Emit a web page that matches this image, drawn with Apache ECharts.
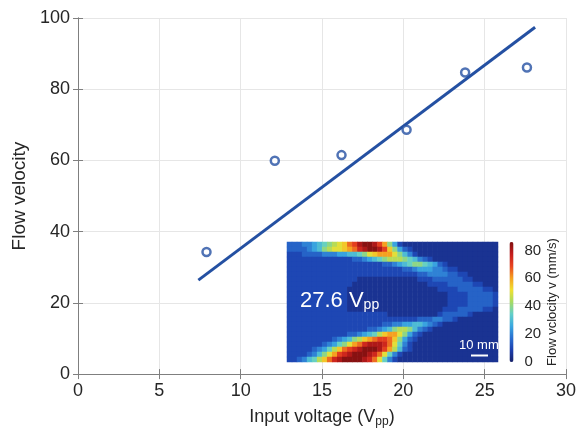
<!DOCTYPE html>
<html>
<head>
<meta charset="utf-8">
<script src="https://cdn.jsdelivr.net/npm/echarts@6/dist/echarts.min.js"></script>
<style>
  html, body { margin: 0; padding: 0; background: #fff; }
  #chart { width: 579px; height: 433px; }
</style>
</head>
<body>
<div id="chart"></div>
<script>
// Measured flow velocity against drive voltage
const voltage = [7.9, 12.1, 16.2, 20.2, 23.8, 27.6];
const velocity = [34.3, 59.9, 61.5, 68.6, 84.7, 86.1];

// Linear trend line end points
const fitVoltage = [7.4, 28.1];
const fitVelocity = [26.4, 97.4];

// Axis ranges
const xRange = [0, 30, 5];
const yRange = [0, 100, 20];

// Velocity field at 27.6 Vpp, one string per row (top to bottom),
// one base-36 digit per cell, in steps of 5 mm/s
const flowRows = [
  "3334456789abdeghhgec852" + "1111111111111111111",
  "333345689aabcdfghhgeb8532" + "11111111111111111",
  "22233334445566" + "78abccca8642" + "1111111111111111",
  "2222222222222" + "3345678999876432" + "1111111111111",
  "22222222222222222" + "223345678876532" + "1111111111",
  "222222222222222222222" + "2233455544322" + "11111111",
  "222222222222222222222222" + "223344443322" + "111111",
  "22222222222222" + "111111111111" + "22233333322" + "11111",
  "2222222222222" + "111111111111111" + "22223333322" + "111",
  "222222222222" + "111111111111111111" + "22223333322" + "1",
  "222222222222" + "11111111111111111111" + "2222333332",
  "222222222222" + "11111111111111111111" + "2222333332",
  "222222222222" + "11111111111111111111" + "2222333332",
  "222222222222" + "1111111111111111111" + "2223333322" + "1",
  "22222222222222222222" + "1111111111" + "2333332" + "11111",
  "22222222222222222222222222" + "33344332" + "11111111",
  "222222222222222222" + "2334455665432" + "11111111111",
  "222222222222222" + "23345689986432" + "1111111111111",
  "222222222222" + "3345679bcca8532" + "111111111111111",
  "222222222" + "345689bcdeedb8532" + "1111111111111111",
  "2222222" + "34578acdfgggfda742" + "11111111111111111",
  "22222" + "34579bdefghhhgec9632" + "11111111111111111",
  "2222" + "3468acefghhhgfda742" + "1111111111111111111",
  "22" + "34679bdfghhhhgfda742" + "11111111111111111111"
];
const flowMax = 86;
const colorbarLabels = [0, 20, 40, 60, 80];

const nCols = flowRows[0].length;
const nRows = flowRows.length;
const flowCells = [];
flowRows.forEach(function (row, r) {
  for (let c = 0; c < row.length; c++) {
    flowCells.push([c, r, parseInt(row[c], 36) * 5]);
  }
});
const colIdx = Array.from({ length: nCols }, (_, i) => i);
const rowIdx = Array.from({ length: nRows }, (_, i) => i);

const FONT = '"Liberation Sans", Arial, Helvetica, sans-serif';
const INK = '#262626';
const AXIS = '#7f7f7f';
const BLUE = '#2450a2';

const chart = echarts.init(document.getElementById('chart'), null, { renderer: 'canvas' });

const boxAxis = {
  axisLine: { show: true, lineStyle: { color: AXIS, width: 1 } },
  axisTick: { show: true, inside: true, length: 5, lineStyle: { color: AXIS } }
};

chart.setOption({
  animation: false,
  backgroundColor: '#fff',
  textStyle: { fontFamily: FONT },
  grid: [
    { left: 78, right: 13, top: 18, bottom: 57 },
    { left: 287, top: 242, width: 211, height: 120 },
    { left: 509.5, top: 242, width: 4, height: 120 }
  ],
  xAxis: [
    Object.assign({
      type: 'value', gridIndex: 0, min: xRange[0], max: xRange[1], interval: xRange[2],
      axisLabel: { color: INK, fontSize: 18, margin: 8, fontFamily: FONT },
      splitLine: { show: true, lineStyle: { color: '#e6e6e6', width: 1 } },
      name: '{a|Input voltage (V}{s|pp}{a|)}',
      nameLocation: 'middle', nameGap: 27,
      nameTextStyle: {
        rich: {
          a: { fontSize: 18, color: INK, fontFamily: FONT, lineHeight: 20, verticalAlign: 'top' },
          s: { fontSize: 12, color: INK, fontFamily: FONT, lineHeight: 12, verticalAlign: 'bottom', padding: [11, 0, 0, 0] }
        }
      }
    }, boxAxis),
    Object.assign({
      type: 'value', gridIndex: 0, position: 'top', min: xRange[0], max: xRange[1], interval: xRange[2],
      axisLabel: { show: false }, splitLine: { show: false }
    }, boxAxis),
    { type: 'category', gridIndex: 1, data: colIdx, show: false },
    { type: 'value', gridIndex: 2, show: false, min: 0, max: 1 }
  ],
  yAxis: [
    Object.assign({
      type: 'value', gridIndex: 0, min: yRange[0], max: yRange[1], interval: yRange[2],
      axisLabel: { color: INK, fontSize: 18, margin: 8, fontFamily: FONT },
      splitLine: { show: true, lineStyle: { color: '#e6e6e6', width: 1 } },
      name: 'Flow velocity',
      nameLocation: 'middle', nameGap: 49, nameRotate: 90,
      nameTextStyle: { fontSize: 19, color: INK, fontFamily: FONT }
    }, boxAxis),
    Object.assign({
      type: 'value', gridIndex: 0, position: 'right', min: yRange[0], max: yRange[1], interval: yRange[2],
      axisLabel: { show: false }, splitLine: { show: false }
    }, boxAxis),
    { type: 'category', gridIndex: 1, data: rowIdx, inverse: true, show: false },
    {
      type: 'value', gridIndex: 2, position: 'right', min: 0, max: flowMax, interval: 20,
      axisLine: { show: false }, axisTick: { show: false }, splitLine: { show: false },
      axisLabel: {
        color: INK, fontSize: 15, margin: 11, fontFamily: FONT, showMaxLabel: false,
        formatter: function (v) { return colorbarLabels.indexOf(v) >= 0 ? String(v) : ''; }
      },
      name: 'Flow vclocity v (mm/s)',
      nameLocation: 'middle', nameGap: 32, nameRotate: 90,
      nameTextStyle: { fontSize: 13, color: INK, fontFamily: FONT }
    }
  ],
  visualMap: {
    type: 'continuous',
    seriesIndex: 2,
    min: 0, max: flowMax,
    calculable: false,
    left: 509.5, top: 242,
    itemWidth: 4, itemHeight: 120,
    padding: 0,
    text: null,
    showLabel: false,
    inRange: {
      color: ['#18226a', '#1c3fae', '#2a6fd0', '#3aa8e0', '#62cfc8', '#a6da62',
              '#f0e030', '#f5a020', '#e84420', '#c41c1c', '#801010']
    }
  },
  title: [
    {
      text: '{m|27.6 V}{s|pp}',
      left: 300, top: 290, padding: 0,
      textStyle: {
        fontWeight: 'normal',
        rich: {
          m: { fontSize: 22, fontWeight: 'normal', color: '#fff', fontFamily: FONT, lineHeight: 22, verticalAlign: 'top' },
          s: { fontSize: 14, fontWeight: 'normal', color: '#fff', fontFamily: FONT, lineHeight: 14, verticalAlign: 'bottom', padding: [12, 0, 0, 0] }
        }
      }
    },
    {
      text: '10 mm',
      left: 459, top: 339, padding: 0,
      textStyle: { fontSize: 13, color: '#fff', fontFamily: FONT, fontWeight: 'normal' }
    }
  ],
  graphic: [
    {
      type: 'line', z: 10,
      shape: { x1: 471, y1: 355.5, x2: 488, y2: 355.5 },
      style: { stroke: '#fff', lineWidth: 2 }
    }
  ],
  series: [
    {
      type: 'line', xAxisIndex: 0, yAxisIndex: 0,
      data: fitVoltage.map((v, i) => [v, fitVelocity[i]]),
      symbol: 'none',
      lineStyle: { color: BLUE, width: 3 },
      z: 3
    },
    {
      type: 'scatter', xAxisIndex: 0, yAxisIndex: 0,
      data: voltage.map((v, i) => [v, velocity[i]]),
      symbol: 'circle', symbolSize: 8,
      itemStyle: { color: '#fff', borderColor: BLUE, borderWidth: 2.5 },
      z: 4
    },
    {
      type: 'heatmap', xAxisIndex: 2, yAxisIndex: 2,
      data: flowCells,
      progressive: 0,
      itemStyle: { borderWidth: 0 },
      emphasis: { disabled: true }
    }
  ]
});
</script>
</body>
</html>
